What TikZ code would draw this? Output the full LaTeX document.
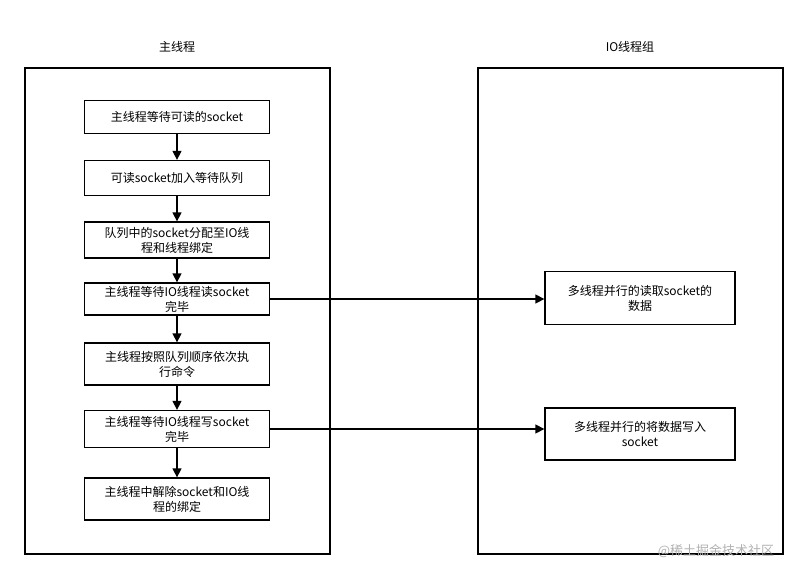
\documentclass[tikz,border=0pt]{standalone}
\usepackage{fontspec}
\setmainfont{Noto Sans CJK SC}
\usetikzlibrary{arrows.meta}
\begin{document}
\begin{tikzpicture}[x=1pt,y=-1pt,
  cont/.style={draw,line width=1.3pt},
  bx/.style={draw,line width=1.3pt,align=center,inner sep=1pt,font=\fontsize{12}{15}\selectfont},
  arr/.style={draw,line width=1.3pt,-{Triangle[length=9pt,width=9pt]}},
  ttl/.style={font=\fontsize{12}{15}\selectfont}]
\useasboundingbox (0,0) rectangle (808,579);
\fill[white] (0,0) rectangle (808,579);
\draw[cont] (25,68) rectangle (330,554);
\draw[cont] (478,68) rectangle (783,554);
\node[ttl] (t1) at (177,47) {主线程};
\node[ttl] (t2) at (630,47) {IO线程组};
\node[bx,minimum width=185pt,minimum height=33pt] (b1) at (177,117) {主线程等待可读的socket};
\node[bx,minimum width=185pt,minimum height=35pt] (b2) at (177,178) {可读socket加入等待队列};
\node[bx,minimum width=185pt,minimum height=36pt] (b3) at (177,240) {队列中的socket分配至IO线\\程和线程绑定};
\node[bx,minimum width=185pt,minimum height=32pt] (b4) at (177,299) {主线程等待IO线程读socket\\完毕};
\node[bx,minimum width=185pt,minimum height=42pt] (b5) at (177,364) {主线程按照队列顺序依次执\\行命令};
\node[bx,minimum width=185pt,minimum height=37pt] (b6) at (177,429) {主线程等待IO线程写socket\\完毕};
\node[bx,minimum width=185pt,minimum height=42pt] (b7) at (177,499) {主线程中解除socket和IO线\\程的绑定};
\node[bx,minimum width=190pt,minimum height=53pt] (r1) at (640,298) {多线程并行的读取socket的\\数据};
\node[bx,minimum width=190pt,minimum height=52pt] (r2) at (640,434) {多线程并行的将数据写入\\socket};
\draw[arr] (b1) -- (b2);
\draw[arr] (b2) -- (b3);
\draw[arr] (b3) -- (b4);
\draw[arr] (b4) -- (b5);
\draw[arr] (b5) -- (b6);
\draw[arr] (b6) -- (b7);
\draw[arr] (b4.east) -- (b4.east -| r1.west);
\draw[arr] (b6.east) -- (b6.east -| r2.west);
\node[font=\fontsize{13}{15}\selectfont,text=gray!60] (wm) at (716,551) {@稀土掘金技术社区};
\end{tikzpicture}
\end{document}
